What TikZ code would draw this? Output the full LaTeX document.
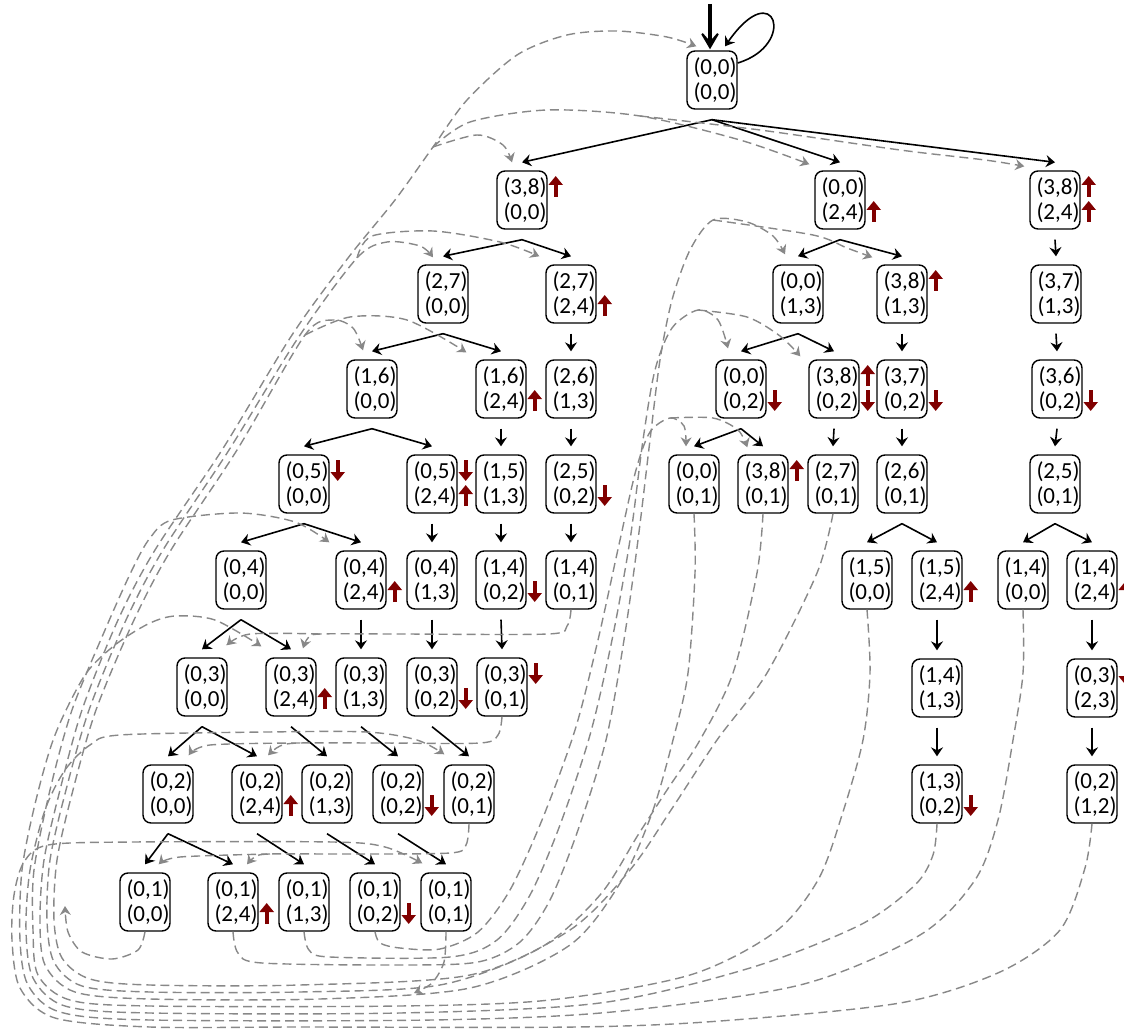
\documentclass[tikz,border=0pt]{standalone}
\usepackage{fontspec}
\setmainfont{Carlito}
\usetikzlibrary{arrows.meta}
\definecolor{flagred}{RGB}{128,0,0}
\definecolor{backgray}{RGB}{136,136,136}
\newcommand\flagup[2]{\draw[flag] ([xshift=4pt,yshift=#2]#1.east) -- ++(0pt,10.5pt);}
\newcommand\flagdn[2]{\draw[flag] ([xshift=4pt,yshift=#2]#1.east) -- ++(0pt,-10.5pt);}
\newcommand\tran[2]{\draw[arr] ([yshift=-5pt]#1.south) -- ([yshift=4pt]#2.north);}

\begin{document}
\begin{tikzpicture}[x=0.5pt, y=-0.5pt,
	st/.style={draw, rounded corners=4pt, line width=0.7pt, minimum height=29pt, text width=24.5pt, align=right, inner xsep=0.25pt, inner ysep=0pt, font=\fontsize{11.5}{12.5}\selectfont},
	arr/.style={line width=0.8pt, -{Stealth[length=4.5pt,width=6pt,inset=1.5pt]}},
	back/.style={backgray, line width=0.7pt, dash pattern=on 4.5pt off 2.5pt, -{Stealth[length=4.5pt,width=5.5pt,inset=1.5pt]}},
	flag/.style={flagred, line width=1.8pt, -{Triangle[length=4.5pt,width=7pt]}},
	initarr/.style={line width=2.4pt, -{Stealth[length=12pt,width=14pt,inset=8pt]}}]
	\useasboundingbox (0,0) rectangle (1124,1032);

	\node[st] (s0000) at (712,80) {(0,0)\\(0,0)};

	\node[st] (s3800) at (522,200) {(3,8)\\(0,0)};
	\node[st] (s0024) at (840,200) {(0,0)\\(2,4)};
	\node[st] (s3824) at (1055,200) {(3,8)\\(2,4)};

	\node[st] (s2700) at (443,294) {(2,7)\\(0,0)};
	\node[st] (s2724) at (571,294) {(2,7)\\(2,4)};
	\node[st] (s0013) at (798,294) {(0,0)\\(1,3)};
	\node[st] (s3813) at (902,294) {(3,8)\\(1,3)};
	\node[st] (s3713) at (1056,294) {(3,7)\\(1,3)};

	\node[st] (s1600) at (372,389) {(1,6)\\(0,0)};
	\node[st] (s1624) at (501,389) {(1,6)\\(2,4)};
	\node[st] (s2613) at (571,389) {(2,6)\\(1,3)};
	\node[st] (s0002) at (741,389) {(0,0)\\(0,2)};
	\node[st] (s3802) at (834,389) {(3,8)\\(0,2)};
	\node[st] (s3702) at (902,389) {(3,7)\\(0,2)};
	\node[st] (s3602) at (1057,389) {(3,6)\\(0,2)};

	\node[st] (s0500) at (304,484) {(0,5)\\(0,0)};
	\node[st] (s0524) at (432,484) {(0,5)\\(2,4)};
	\node[st] (s1513) at (501,484) {(1,5)\\(1,3)};
	\node[st] (s2502) at (571,484) {(2,5)\\(0,2)};
	\node[st] (s0001) at (694,484) {(0,0)\\(0,1)};
	\node[st] (s3801) at (763,484) {(3,8)\\(0,1)};
	\node[st] (s2701) at (833,484) {(2,7)\\(0,1)};
	\node[st] (s2601) at (902,484) {(2,6)\\(0,1)};
	\node[st] (s2501) at (1055,484) {(2,5)\\(0,1)};

	\node[st] (s0400) at (241,580) {(0,4)\\(0,0)};
	\node[st] (s0424) at (361,580) {(0,4)\\(2,4)};
	\node[st] (s0413) at (432,580) {(0,4)\\(1,3)};
	\node[st] (s1402) at (501,580) {(1,4)\\(0,2)};
	\node[st] (s1401) at (571,580) {(1,4)\\(0,1)};
	\node[st] (s1500) at (867,580) {(1,5)\\(0,0)};
	\node[st] (s1524) at (937,580) {(1,5)\\(2,4)};
	\node[st] (s1400) at (1023,580) {(1,4)\\(0,0)};
	\node[st] (s1424) at (1092,580) {(1,4)\\(2,4)};

	\node[st] (s0300) at (202,687) {(0,3)\\(0,0)};
	\node[st] (s0324) at (291,687) {(0,3)\\(2,4)};
	\node[st] (s0313) at (361,687) {(0,3)\\(1,3)};
	\node[st] (s0302) at (432,687) {(0,3)\\(0,2)};
	\node[st] (s0301) at (502,687) {(0,3)\\(0,1)};
	\node[st] (s1413) at (937,688) {(1,4)\\(1,3)};
	\node[st] (s0323) at (1092,688) {(0,3)\\(2,3)};

	\node[st] (s0200) at (168,794) {(0,2)\\(0,0)};
	\node[st] (s0224) at (257,794) {(0,2)\\(2,4)};
	\node[st] (s0213) at (327,794) {(0,2)\\(1,3)};
	\node[st] (s0202) at (398,794) {(0,2)\\(0,2)};
	\node[st] (s0201) at (469,794) {(0,2)\\(0,1)};
	\node[st] (s1302) at (937,794) {(1,3)\\(0,2)};
	\node[st] (s0212) at (1092,794) {(0,2)\\(1,2)};

	\node[st] (s0100) at (145,902) {(0,1)\\(0,0)};
	\node[st] (s0124) at (233,902) {(0,1)\\(2,4)};
	\node[st] (s0113) at (304,902) {(0,1)\\(1,3)};
	\node[st] (s0102) at (375,902) {(0,1)\\(0,2)};
	\node[st] (s0101) at (446,902) {(0,1)\\(0,1)};

	\flagup{s3800}{1.5pt}
	\flagup{s0024}{-11pt}
	\flagup{s3824}{1.5pt} \flagup{s3824}{-11pt}
	\flagup{s2724}{-11pt}
	\flagup{s3813}{1.5pt}
	\flagup{s1624}{-11pt}
	\flagdn{s0002}{-0.5pt}
	\flagup{s3802}{1.5pt} \flagdn{s3802}{-0.5pt}
	\flagdn{s3702}{-0.5pt}
	\flagdn{s3602}{-0.5pt}
	\flagdn{s0500}{12pt}
	\flagdn{s0524}{12pt} \flagup{s0524}{-11pt}
	\flagdn{s2502}{-0.5pt}
	\flagup{s3801}{1.5pt}
	\flagup{s0424}{-11pt}
	\flagdn{s1402}{-0.5pt}
	\flagup{s1524}{-11pt}
	\flagup{s1424}{-11pt}
	\flagup{s0324}{-11pt}
	\flagdn{s0302}{-0.5pt}
	\flagdn{s0301}{12pt}
	\flagdn{s0323}{12pt}
	\flagup{s0224}{-11pt}
	\flagdn{s0202}{-0.5pt}
	\flagdn{s1302}{-0.5pt}
	\flagup{s0124}{-11pt}
	\flagdn{s0102}{-0.5pt}

	\coordinate (entry) at (710,4);
	\draw[initarr] (entry) -- ([xshift=-1pt,yshift=0.5pt]s0000.north);
	\draw[arr] ([yshift=8.5pt]s0000.east) .. controls +(30pt,9pt) and +(25pt,36pt) .. ([xshift=6.5pt,yshift=2pt]s0000.north);

	\tran{s0000}{s3800} \tran{s0000}{s0024} \tran{s0000}{s3824}
	\tran{s3800}{s2700} \tran{s3800}{s2724}
	\tran{s0024}{s0013} \tran{s0024}{s3813}
	\tran{s3824}{s3713}
	\tran{s2700}{s1600} \tran{s2700}{s1624}
	\tran{s2724}{s2613}
	\tran{s0013}{s0002} \tran{s0013}{s3802}
	\tran{s3813}{s3702}
	\tran{s3713}{s3602}
	\tran{s1600}{s0500} \tran{s1600}{s0524}
	\tran{s1624}{s1513}
	\tran{s2613}{s2502}
	\tran{s0002}{s0001} \tran{s0002}{s3801}
	\tran{s3802}{s2701}
	\tran{s3702}{s2601}
	\tran{s3602}{s2501}
	\tran{s0500}{s0400} \tran{s0500}{s0424}
	\tran{s0524}{s0413}
	\tran{s1513}{s1402}
	\tran{s2502}{s1401}
	\tran{s2601}{s1500} \tran{s2601}{s1524}
	\tran{s2501}{s1400} \tran{s2501}{s1424}
	\tran{s0400}{s0300} \tran{s0400}{s0324}
	\tran{s0424}{s0313}
	\tran{s0413}{s0302}
	\tran{s1402}{s0301}
	\tran{s1524}{s1413}
	\tran{s1424}{s0323}
	\tran{s0300}{s0200} \tran{s0300}{s0224}
	\tran{s0324}{s0213}
	\tran{s0313}{s0202}
	\tran{s0302}{s0201}
	\tran{s1413}{s1302}
	\tran{s0323}{s0212}
	\tran{s0200}{s0100} \tran{s0200}{s0124}
	\tran{s0224}{s0113}
	\tran{s0213}{s0102}
	\tran{s0202}{s0101}

	\coordinate (b1) at (433,147);
	\coordinate (b1r) at (640,116);
	\coordinate (b2) at (357,258);
	\coordinate (b3) at (305,335);
	\coordinate (g1) at (713,220);
	\coordinate (g2) at (698,310);
	\coordinate (g3) at (670,418);
	\coordinate (h1) at (320,634);
	\coordinate (h2) at (300,743);
	\coordinate (h3) at (270,854);
	\coordinate (q1) at (65,906);
	\coordinate (q2) at (414,993);

	% round the bottom and up the left side
	\draw[back] plot[smooth] coordinates {(s0001.south) (695,573) (688,673) (673,740) (652,813) (622,880) (570,945) (470,988) (320,999) (150,999) (75,992) (45,965) (40,920) (44,860) (60,790) (82,710) (118,620) (155,550) (222,450) (292,335) (348,258) (395,200) (b1) (467,100) (517,55) (567,35) (617,31) (667,37) ([xshift=5pt,yshift=2pt]s0000.north west)};
	\draw[back] plot[smooth] coordinates {(b1) (477,135) (503,145) ([xshift=-5pt,yshift=4pt]s3800.north)};
	\draw[back] plot[smooth] coordinates {(b1) (470,122) (547,110) (b1r) (740,140) ([xshift=-2.5pt,yshift=3pt]s0024.north west)};
	\draw[back] plot[smooth] coordinates {(b1r) (760,130) (900,150) (985,160) ([xshift=-2.5pt,yshift=2pt]s3824.north west)};
	\draw[back] plot[smooth] coordinates {(s3801.south) (757,573) (733,673) (700,740) (667,790) (638,835) (600,895) (540,948) (440,985) (300,992) (150,992) (82,986) (54,962) (47,920) (50,860) (66,790) (89,710) (126,620) (163,550) (229,450) (298,338) (b2) (387,242) (420,246) ([xshift=-5pt,yshift=3.5pt]s2700.north)};
	\draw[back] plot[smooth] coordinates {(b2) (372,236) (433,231) (500,242) ([xshift=-3pt,yshift=4pt]s2724.north west)};
	\draw[back] plot[smooth] coordinates {(s2701.south) (817,573) (767,673) (717,740) (673,807) (630,870) (570,930) (470,975) (300,985) (150,985) (90,979) (62,958) (54,920) (57,860) (73,790) (96,710) (134,620) (171,550) (237,450) (b3) (333,320) (353,328) ([xshift=-4.5pt,yshift=4.5pt]s1600.north)};
	\draw[back] plot[smooth] coordinates {(b3) (350,317) (407,320) ([xshift=-4.5pt,yshift=3.5pt]s1624.north west)};
	\draw[back] plot[smooth] coordinates {(s1500.south) (870,673) (863,740) (842,815) (818,880) (775,932) (690,975) (550,1000) (400,1006) (150,1006) (70,1000) (38,975) (33,930) (34,870) (50,790) (72,710) (105,630) (132,570) (150,538) (172,520) (240,513) (295,522) ([xshift=-3pt,yshift=4pt]s0424.north west)};
	\draw[back] plot[smooth] coordinates {(s1400.south) (1023,673) (1013,740) (998,820) (975,880) (920,935) (800,985) (612,1012) (432,1020) (150,1020) (60,1012) (28,985) (20,940) (22,870) (36,800) (55,735) (85,675) (115,645) (148,624) (175,616) (215,620) ([xshift=-2pt,yshift=5.5pt]s0324.north west)};
	\draw[back] plot[smooth] coordinates {(s1302.south) (933,855) (915,885) (860,925) (750,968) (600,1003) (400,1013) (150,1013) (65,1006) (33,978) (26,930) (30,870) (45,810) (65,770) (90,745) (120,735) (267,732) (367,732) (417,740) ([xshift=0.5pt,yshift=5pt]s0201.north west)};
	\draw[back] plot[smooth] coordinates {(s0212.south) (1085,868) (1060,930) (1000,972) (900,1003) (720,1021) (576,1027) (300,1027) (150,1027) (55,1018) (20,988) (12,940) (14,895) (24,862) (48,845) (133,842) (333,842) (385,847) ([xshift=1pt,yshift=4.5pt]s0101.north west)};

	% from the bottom row up the middle
	\draw[back] plot[smooth] coordinates {(s0124.south) (238,953) (262,963) (400,965) (478,962) (520,942) (550,900) (578,830) (606,740) (624,640) (638,540) (650,440) (660,360) (672,300) (690,250) (g1) (747,222) (773,236) ([xshift=-6.5pt,yshift=5pt]s0013.north)};
	\draw[back] plot[smooth] coordinates {(g1) (813,235) (847,248) ([xshift=-2pt,yshift=3.5pt]s3813.north west)};
	\draw[back] plot[smooth] coordinates {(s0113.south) (309,950) (330,957) (450,957) (497,940) (530,895) (560,825) (590,735) (612,640) (630,540) (643,440) (655,370) (672,328) (g2) (718,320) ([xshift=-6.5pt,yshift=5.5pt]s0002.north)};
	\draw[back] plot[smooth] coordinates {(g2) (747,317) (780,336) ([xshift=-4pt,yshift=1.5pt]s3802.north west)};
	\draw[back] plot[smooth] coordinates {(s0102.south) (380,943) (400,948) (440,949) (478,932) (510,890) (542,820) (575,730) (598,640) (620,540) (636,470) (650,432) (g3) (684,426) ([xshift=-4pt,yshift=4pt]s0001.north)};
	\draw[back] plot[smooth] coordinates {(g3) (713,418) (738,430) ([xshift=5pt,yshift=3.5pt]s3801.north west)};

	% short ones along a row
	\draw[back] plot[smooth] coordinates {(s1401.south) (567,626) (548,634) (400,634) (h1) (308,638) ([xshift=6pt,yshift=4.5pt]s0324.north)};
	\draw[back] plot[smooth] coordinates {(h1) (250,634) ([xshift=-0.5pt,yshift=6pt]s0300.north east)};
	\draw[back] plot[smooth] coordinates {(s0301.south) (498,735) (480,743) (380,743) (h2) (280,746) ([xshift=5.5pt,yshift=4.5pt]s0224.north)};
	\draw[back] plot[smooth] coordinates {(h2) (210,745) ([xshift=-2.5pt,yshift=4.5pt]s0200.north east)};
	\draw[back] plot[smooth] coordinates {(s0201.south) (466,845) (450,853) (350,854) (h3) (255,857) ([xshift=7pt,yshift=4pt]s0124.north)};
	\draw[back] plot[smooth] coordinates {(h3) (180,857) ([xshift=-6pt,yshift=4pt]s0100.north east)};

	\draw[back] plot[smooth] coordinates {(s0100.south) (138,950) (112,959) (82,952) (68,932) (q1)};
	\draw[back] plot[smooth] coordinates {(s0101.south) (444,962) (432,983) (q2)};
\end{tikzpicture}
\end{document}
